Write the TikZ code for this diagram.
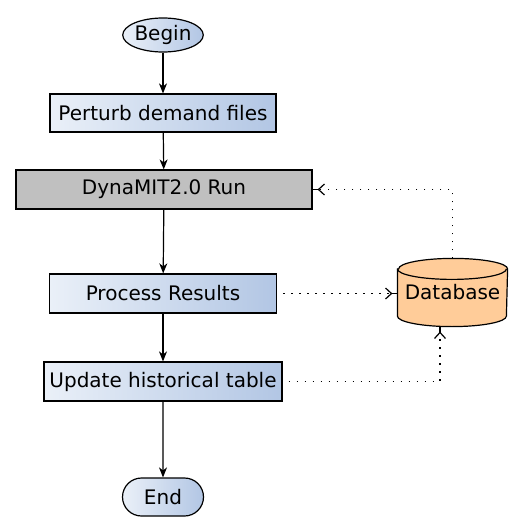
\documentclass[tikz,border=0pt]{standalone}
\usepackage{fontspec}
\setmainfont{DejaVu Sans}
\usepackage{tikz}
\usetikzlibrary{arrows.meta, shapes.geometric, shapes.misc}

\begin{document}
\begin{tikzpicture}[x=1pt, y=1pt, line width=1.2pt,
    font=\fontsize{20}{24}\selectfont,
    step box/.style = {rectangle, draw, inner sep=0pt, minimum height=39pt,
        left color={rgb,255:red,234;green,240;blue,248}, right color={rgb,255:red,178;green,198;blue,228}},
    flow/.style = {-{Stealth[length=10pt, width=8pt, inset=3pt]}, line width=1.2pt},
    db link/.style = {-{Straight Barb[length=6pt, width=11pt, line width=1.2pt]
        Rectangle[length=5pt, width=1.4pt]}, line width=1.5pt,
        dash pattern=on 1.5pt off 6.5pt},
    cap arc/.style = {start angle=#1, delta angle=180, x radius=54.5pt, y radius=10.5pt}]
    \useasboundingbox (0,0) rectangle (522,-532);
    % start and end
    \node [ellipse, draw, inner sep=0pt, minimum width=80pt, minimum height=34pt,
        left color={rgb,255:red,234;green,240;blue,248}, right color={rgb,255:red,178;green,198;blue,228}]
        (begin) at (163,-35) {Begin};
    \node [rounded rectangle, draw, inner sep=0pt, minimum width=81pt, minimum height=38pt,
        left color={rgb,255:red,234;green,240;blue,248}, right color={rgb,255:red,178;green,198;blue,228}]
        (end) at (163,-497) {End};
    % steps
    \node [step box, minimum width=226pt, minimum height=38pt] (perturb) at (163,-113) {Perturb demand files};
    \node [rectangle, draw, inner sep=0pt, minimum width=296pt, minimum height=39pt,
        fill={rgb,255:red,192;green,192;blue,192}] (run) at (164,-189.5) {DynaMIT2.0 Run};
    \node [step box, minimum width=227pt] (process) at (163,-293.5) {Process Results};
    \node [step box, minimum width=238pt] (update) at (163,-381.5) {Update historical table};
    % storage
    \node [rectangle, inner sep=0pt, minimum width=109pt, minimum height=67pt]
        (db) at (452.5,-292.5) {};
    \filldraw [fill={rgb,255:red,255;green,204;blue,153}]
        ([yshift=-10.5pt]db.north west) -- ([yshift=10.5pt]db.south west)
        arc [cap arc=180] -- ([yshift=-10.5pt]db.north east) arc [cap arc=0] -- cycle;
    \draw ([yshift=-10.5pt]db.north west) arc [cap arc=180];
    \node (dbtext) at (db.center) {Database};
    \coordinate (upcorner) at (452.5,-189.5);
    \coordinate (lowcorner) at (440,-381.5);
    % main flow
    \draw [flow] (begin) -- (perturb);
    \draw [flow] (perturb) -- (run);
    \draw [flow] (run) -- (process);
    \draw [flow] (process) -- (update);
    \draw [flow] (update) -- (end);
    % links with the database
    \draw [db link] (db.north) -- (upcorner) -- (run.east);
    \draw [db link, shorten <=6pt] (process.east) -- (process.east -| db.west);
    \draw [db link, shorten <=6pt] (update.east) -- (lowcorner) -- (lowcorner |- db.south);
\end{tikzpicture}
\end{document}
